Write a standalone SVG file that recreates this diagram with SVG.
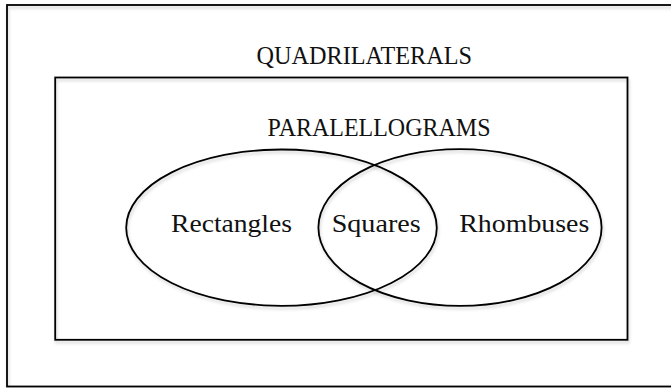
<svg xmlns="http://www.w3.org/2000/svg" width="671" height="388" viewBox="0 0 671 388">
<defs>
<filter id="sh" x="-10%" y="-10%" width="120%" height="130%">
<feDropShadow dx="1" dy="2.5" stdDeviation="1.5" flood-color="#000" flood-opacity="0.18"/>
</filter>
</defs>
<style>
.shape{fill:none;stroke:#000;stroke-width:1.8;filter:url(#sh)}
.lbl{font-family:"Liberation Serif","Times New Roman",serif;font-size:25px;fill:#111}
</style>
<rect width="671" height="388" fill="#fff"/>
<g id="quadrilaterals">
<rect class="shape" x="7" y="5" width="700" height="381.5"/>
<text class="lbl" x="256.5" y="63.5" textLength="215.5" lengthAdjust="spacingAndGlyphs">QUADRILATERALS</text>
</g>
<g id="parallelograms">
<rect class="shape" x="55.2" y="77.5" width="572.3" height="262.3"/>
<text class="lbl" x="267.5" y="136" textLength="223" lengthAdjust="spacingAndGlyphs">PARALELLOGRAMS</text>
</g>
<g id="rectangles">
<ellipse class="shape" cx="281.5" cy="227.7" rx="155.3" ry="78.2"/>
<text class="lbl" x="171" y="231.7" textLength="121" lengthAdjust="spacingAndGlyphs">Rectangles</text>
</g>
<g id="rhombuses">
<ellipse class="shape" cx="460" cy="227.5" rx="141.6" ry="78.3"/>
<text class="lbl" x="459.3" y="231.7" textLength="130" lengthAdjust="spacingAndGlyphs">Rhombuses</text>
</g>
<g id="squares">
<text class="lbl" x="331.7" y="231.7" textLength="89" lengthAdjust="spacingAndGlyphs">Squares</text>
</g>
<g id="connectors"></g>
</svg>
